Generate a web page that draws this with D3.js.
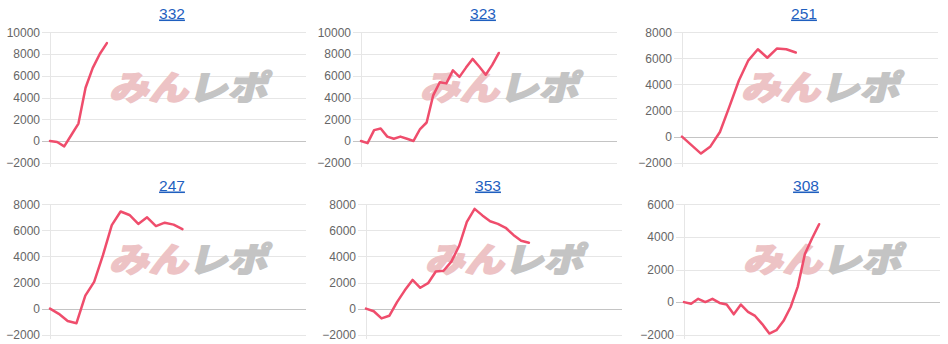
<!DOCTYPE html>
<html>
<head>
<meta charset="utf-8">
<script src="https://cdn.jsdelivr.net/npm/d3@7"></script>
<style>
  html, body { margin: 0; padding: 0; background: #fff; }
  svg { display: block; }
  .tick text { font-family: "Liberation Sans", Arial, sans-serif; font-size: 12px; fill: #666; }
</style>
</head>
<body>
<div id="chart"></div>
<script>
// machine numbers (panel titles)
const titles = ["332", "323", "251", "247", "353", "308"];

// balance per slot
const s332 = [0, -100, -500, 550, 1600, 4900, 6700, 8000, 9000];
const s323 = [0, -200, 1000, 1150, 400, 200, 400, 200, 0, 1100, 1700, 4200, 5400, 5300, 6500, 5900, 6750, 7550, 6850, 6100, 7000, 8100];
const s251 = [0, -650, -1300, -750, 350, 2300, 4300, 5850, 6700, 6050, 6750, 6700, 6450];
const s247 = [0, -400, -950, -1120, 1000, 2050, 4100, 6400, 7450, 7180, 6490, 7000, 6330, 6590, 6440, 6100];
const s353 = [0, -200, -750, -550, 500, 1400, 2200, 1600, 1950, 2850, 2900, 3600, 4800, 6650, 7650, 7150, 6700, 6500, 6200, 5650, 5200, 5050];
const s308 = [0, -100, 200, 0, 200, -50, -150, -750, -150, -600, -850, -1350, -1930, -1720, -1150, -300, 950, 2950, 3900, 4780];
const series = [s332, s323, s251, s247, s353, s308];

// axis ranges
const yMin = -2000;
const yMax = [10000, 10000, 8000, 8000, 8000, 6000];
const yStep = 2000;
const xSlots = [36, 39, 27, 29, 33, 36];

const width = 948, height = 344;
const panelX = [0, 311, 632, 0, 316, 634];
const panelY = [0, 0, 0, 172, 172, 172];
const plot = {left: 50, right: 306, top: 32.3, bottom: 162.7};

const svg = d3.select("#chart").append("svg")
  .attr("width", width)
  .attr("height", height);

series.forEach((data, k) => {
  const g = svg.append("g")
    .attr("transform", `translate(${panelX[k]},${panelY[k]})`);

  const x = d3.scaleLinear()
    .domain([0, xSlots[k]])
    .range([plot.left, plot.right]);

  const y = d3.scaleLinear()
    .domain([yMin, yMax[k]])
    .range([plot.bottom, plot.top]);

  const ticks = d3.range(yMin, yMax[k] + 1, yStep);

  // y axis + gridlines
  const axis = g.append("g")
    .attr("transform", `translate(${plot.left},0)`)
    .call(d3.axisLeft(y)
      .tickValues(ticks)
      .tickSize(-(plot.right - plot.left))
      .tickPadding(10)
      .tickFormat(d3.format("d")));
  axis.select(".domain").remove();
  axis.selectAll(".tick line")
    .attr("x1", -8)
    .attr("stroke", d => d === 0 ? "#c4c4c4" : "#e6e6e6")
    .attr("shape-rendering", "crispEdges");

  g.append("line")
    .attr("x1", plot.left).attr("x2", plot.left)
    .attr("y1", plot.top).attr("y2", plot.bottom + 4)
    .attr("stroke", "#e6e6e6")
    .attr("shape-rendering", "crispEdges");

  // watermark
  const wm = g.append("text")
    .attr("transform", `translate(${188},${100}) skewX(-14)`)
    .attr("text-anchor", "middle")
    .attr("font-family", "'Noto Sans CJK JP', sans-serif")
    .attr("font-weight", 900)
    .attr("font-size", 34)
    .attr("stroke-width", 1.6)
    .attr("stroke-linejoin", "round")
    .attr("textLength", 158)
    .attr("lengthAdjust", "spacingAndGlyphs");
  wm.append("tspan").attr("fill", "#edc3c5").attr("stroke", "#edc3c5").text("みん");
  wm.append("tspan").attr("fill", "#c4c4c4").attr("stroke", "#c4c4c4").text("レポ");

  // title
  g.append("text")
    .attr("x", 172)
    .attr("y", 18.5)
    .attr("text-anchor", "middle")
    .attr("font-family", "'Liberation Sans', Arial, sans-serif")
    .attr("font-size", 15.5)
    .attr("fill", "#1f5fbf")
    .attr("text-decoration", "underline")
    .text(titles[k]);

  // line
  const line = d3.line()
    .x((d, i) => x(i))
    .y(d => y(d));

  g.append("path")
    .datum(data)
    .attr("fill", "none")
    .attr("stroke", "#ef4d6c")
    .attr("stroke-width", 2.5)
    .attr("stroke-linejoin", "round")
    .attr("stroke-linecap", "round")
    .attr("d", line);
});
</script>
</body>
</html>
